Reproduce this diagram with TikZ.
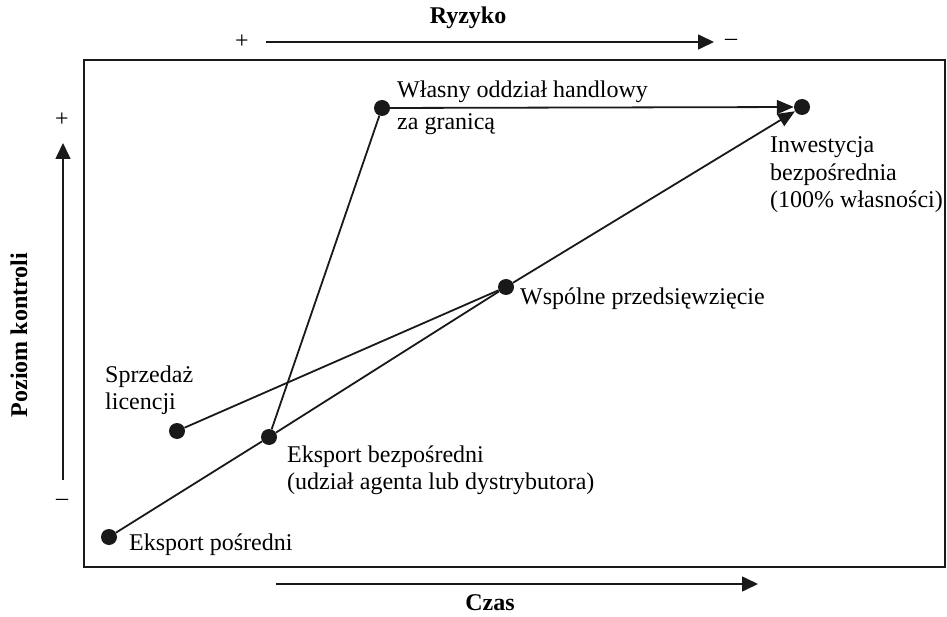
\documentclass[tikz,border=0pt]{standalone}
\usepackage{fontspec}
\setmainfont{Liberation Serif}
\usetikzlibrary{arrows.meta}
\begin{document}
\begin{tikzpicture}[x=1pt,y=-1pt,
  dot/.style={circle,fill=black!90,inner sep=0pt,minimum size=16pt},
  lbl/.style={anchor=west,inner sep=0pt,align=left,font=\fontsize{24}{26.5}\selectfont},
  sign/.style={inner sep=0pt,font=\fontsize{24}{26}\selectfont},
  axtitle/.style={inner sep=0pt,font=\fontsize{24}{28}\selectfont\bfseries},
  link/.style={line width=1.8pt,black!90},
  tip/.style={-{Triangle[length=17pt,width=14pt]}},
  axis/.style={line width=1.6pt,black!90,-{Triangle[length=16pt,width=15pt]}}]
\useasboundingbox (0,0) rectangle (947,617);
% frame
\node[draw=black!90,line width=2.4pt,minimum width=861pt,minimum height=507pt,inner sep=0pt]
  (frame) at (514.5,313.5) {};
% axis arrows
\coordinate (rs) at (266,42);
\coordinate (re) at (714,42);
\coordinate (cs) at (276,584);
\coordinate (ce) at (758,584);
\coordinate (ks) at (63,480);
\coordinate (ke) at (63,143);
\draw[axis] (rs) -- (re);
\draw[axis] (cs) -- (ce);
\draw[axis] (ks) -- (ke);
\node[axtitle] (ryzyko) at (468,18) {Ryzyko};
\node[axtitle] (czas) at (490,603) {Czas};
\node[axtitle,rotate=90] (kontrola) at (19,335) {Poziom kontroli};
\node[sign] (rplus) at (242,42) {+};
\node[sign] (rminus) at (731,42) {\textendash};
\node[sign] (kplus) at (62,120) {+};
\node[sign] (kminus) at (62,502) {\textendash};
% entry modes
\node[dot] (posr) at (109,537) {};
\node[dot] (bezp) at (269,437) {};
\node[dot] (lic) at (177,431) {};
\node[dot] (jv) at (506,287) {};
\node[dot] (odd) at (382,108) {};
\node[dot] (inw) at (802,107) {};
\node[lbl] (tposr) at (129,545) {Eksport pośredni};
\node[lbl] (tbezp) at (287,470) {Eksport bezpośredni\\(udział agenta lub dystrybutora)};
\node[lbl] (tlic) at (105,390) {Sprzedaż\\licencji};
\node[lbl] (tjv) at (520,299) {Wspólne przedsięwzięcie};
\node[lbl] (todd) at (397,108) {Własny oddział handlowy\\[6pt]za granicą};
\node[lbl,font=\fontsize{24}{27.5}\selectfont] (tinw) at (770,175) {Inwestycja\\bezpośrednia\\(100\% własności)};
% paths
\draw[link] (posr) -- (bezp) -- (jv);
\draw[link,tip] (jv) -- (inw);
\draw[link] (lic) -- (jv);
\draw[link] (bezp) -- (odd);
\draw[link,tip] (odd) -- (inw);
\end{tikzpicture}
\end{document}
